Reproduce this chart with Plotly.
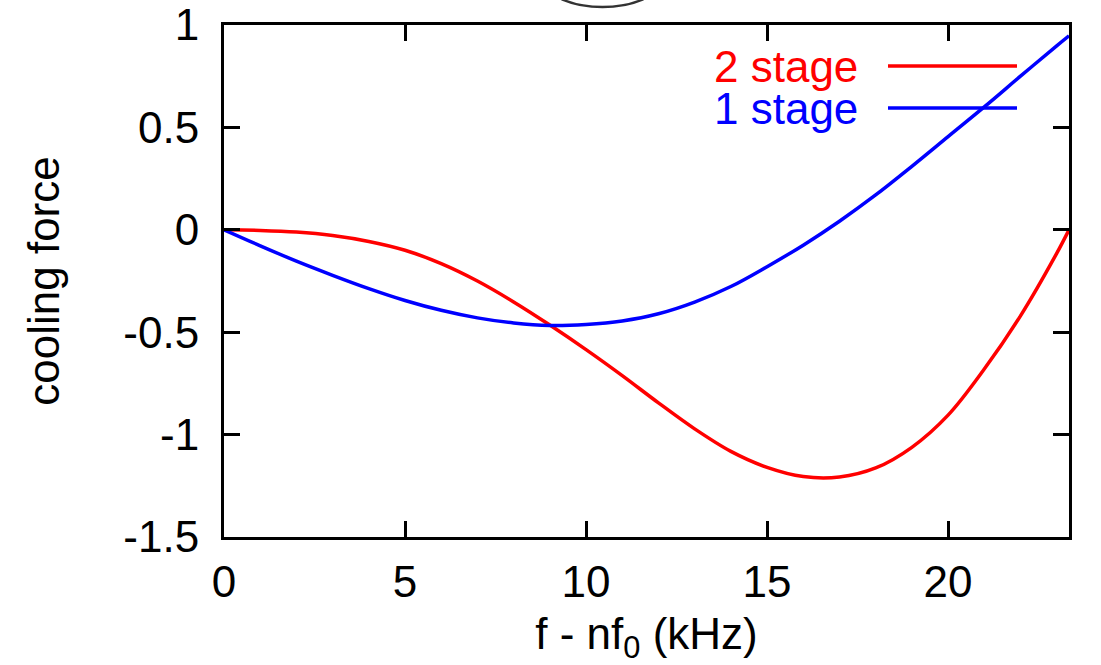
import plotly.graph_objects as go

# Data
x_vals = [0, 1, 2, 3, 4, 5, 6, 7, 8, 9, 10, 11, 12, 13, 14, 15, 16,
          17, 18, 19, 20, 21, 22, 23, 23.34]
one_stage = [0.0, -0.078, -0.153, -0.222, -0.287, -0.345, -0.393, -0.43, -0.455,
             -0.467, -0.462, -0.445, -0.41, -0.353, -0.277, -0.18, -0.075,
             0.042, 0.17, 0.31, 0.455, 0.60, 0.75, 0.898, 0.947]
two_stage = [0.0, -0.003, -0.011, -0.028, -0.057, -0.10, -0.165, -0.25, -0.352,
             -0.465, -0.585, -0.712, -0.845, -0.972, -1.082, -1.16, -1.205,
             -1.207, -1.163, -1.062, -0.905, -0.68, -0.42, -0.115, 0.0]

x_ticks = [0, 5, 10, 15, 20]
y_ticks = [-1.5, -1, -0.5, 0, 0.5, 1]
y_tick_text = ["-1.5", "-1", "-0.5", "0", "0.5", "1"]
legend_names = ["2 stage", "1 stage"]
colors = ["#ff0000", "#0000ff"]

FONT = "Liberation Sans, Arial, sans-serif"
FS = 44

fig = go.Figure()
fig.add_trace(go.Scatter(x=x_vals, y=two_stage, mode="lines", name=legend_names[0],
                         line=dict(color=colors[0], width=3.5, shape="spline", smoothing=1.0)))
fig.add_trace(go.Scatter(x=x_vals, y=one_stage, mode="lines", name=legend_names[1],
                         line=dict(color=colors[1], width=3.5, shape="spline", smoothing=1.0)))

L, R, T, B = 224, 32, 25, 128
W, H = 1101, 665
pw, ph = W - L - R, H - T - B

def px_x(px):
    return (px - L) / pw

def px_y(py):
    return (H - B - py) / ph

# gnuplot-style legend: text on the left, line sample on the right
annotations = []
shapes = []
for name, col, py in zip(legend_names, colors, [66, 108]):
    annotations.append(dict(x=px_x(860), y=px_y(py), xref="paper", yref="paper",
                            text=name, showarrow=False, xanchor="right", yanchor="middle",
                            font=dict(family=FONT, size=FS, color=col)))
    shapes.append(dict(type="line", xref="paper", yref="paper",
                       x0=px_x(888), x1=px_x(1017), y0=px_y(py), y1=px_y(py),
                       line=dict(color=col, width=3.5)))

# partial ellipse visible at the top edge
shapes.append(dict(type="circle", xref="paper", yref="paper",
                   x0=px_x(548), x1=px_x(657), y0=px_y(7), y1=px_y(-40),
                   line=dict(color="#333333", width=2.5)))

fig.update_layout(
    width=W, height=H,
    margin=dict(l=L, r=R, t=T, b=B, autoexpand=False),
    paper_bgcolor="white", plot_bgcolor="white",
    showlegend=False,
    font=dict(family=FONT, size=FS, color="black"),
    annotations=annotations,
    shapes=shapes,
    xaxis=dict(range=[0, 23.34], tickvals=x_ticks, ticks="inside", ticklen=16,
               tickwidth=2.5, tickcolor="black", mirror="ticks", showline=True,
               linecolor="black", linewidth=3, showgrid=False, zeroline=False,
               ticklabelstandoff=4, automargin=False,
               title=dict(text="f - nf<sub>0</sub> (kHz)", standoff=30,
                          font=dict(family=FONT, size=FS))),
    yaxis=dict(range=[-1.5, 1], tickvals=y_ticks, ticktext=y_tick_text, ticks="inside",
               ticklen=16, tickwidth=2.5, tickcolor="black", mirror="ticks",
               showline=True, linecolor="black", linewidth=3, showgrid=False,
               zeroline=False, ticklabelstandoff=13, automargin=False,
               title=dict(text="cooling force", standoff=50,
                          font=dict(family=FONT, size=FS))),
)

fig.write_html("out.html")
